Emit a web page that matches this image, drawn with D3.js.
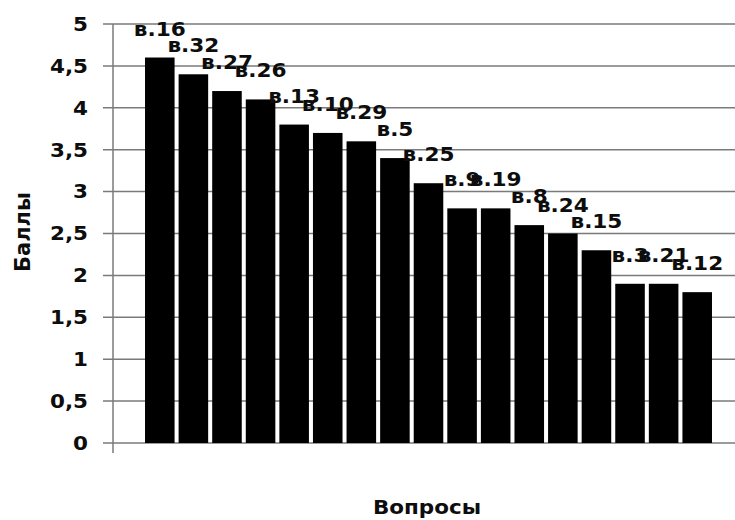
<!DOCTYPE html>
<html><head><meta charset="utf-8">
<script src="https://cdn.jsdelivr.net/npm/d3@7"></script>
<style>body{margin:0;background:#fff}svg{display:block}</style>
</head><body>
<svg id="c" width="735" height="520"></svg>
<script>
const categories = ["в.16","в.32","в.27","в.26","в.13","в.10","в.29","в.5","в.25","в.9","в.19","в.8","в.24","в.15","в.3","в.21","в.12"];
const values = [4.6,4.4,4.2,4.1,3.8,3.7,3.6,3.4,3.1,2.8,2.8,2.6,2.5,2.3,1.9,1.9,1.8];
const yTicks = [0,0.5,1,1.5,2,2.5,3,3.5,4,4.5,5];
const yTitle = "Баллы";
const xTitle = "Вопросы";

(function(){
const svg = d3.select("#c");
const font = "'DejaVu Sans', sans-serif";
const axisX = 113, plotTop = 24, plotBottom = 443, rightEnd = 735;
const y = d3.scaleLinear().domain([0,5]).range([plotBottom, plotTop]);
const x = d3.scaleBand().domain(categories).range([143, 714]).paddingInner(0.12).paddingOuter(0.06);
const fmt = v => String(v).replace(".", ",");
const gray = "#7a7a7a";
const ink = "#0d0d0d";

// gridlines
svg.append("g").selectAll("line").data(yTicks).join("line")
  .attr("x1", axisX - 10).attr("x2", rightEnd)
  .attr("y1", d => y(d)).attr("y2", d => y(d))
  .attr("stroke", gray).attr("stroke-width", 1.5);

// y axis line
svg.append("line").attr("x1", axisX).attr("x2", axisX)
  .attr("y1", y(5)).attr("y2", plotBottom + 10)
  .attr("stroke", gray).attr("stroke-width", 1.5);

// tick labels
svg.append("g").selectAll("text").data(yTicks).join("text")
  .attr("transform", d => `translate(88,${y(d)}) scale(1.13,1)`)
  .attr("dy", "0.36em")
  .attr("text-anchor", "end")
  .attr("font-family", font).attr("font-weight", "bold").attr("font-size", 19)
  .attr("fill", ink).text(fmt);

// bars
svg.append("g").selectAll("rect").data(values).join("rect")
  .attr("x", (d,i) => x(categories[i]))
  .attr("width", x.bandwidth())
  .attr("y", d => y(d))
  .attr("height", d => plotBottom - y(d))
  .attr("fill", "#000");

// data labels
svg.append("g").selectAll("text").data(values).join("text")
  .attr("transform", (d,i) => `translate(${x(categories[i]) + x.bandwidth()/2},${y(d) - 22}) scale(1.08,1)`)
  .attr("text-anchor", "middle")
  .attr("font-family", font).attr("font-weight", "bold").attr("font-size", 20)
  .attr("fill", ink)
  .text((d,i) => categories[i]);

// axis titles
svg.append("text")
  .attr("transform", "translate(30,232) rotate(-90)")
  .attr("text-anchor", "middle")
  .attr("font-family", font).attr("font-weight", "bold").attr("font-size", 21)
  .attr("fill", ink).text(yTitle);
svg.append("text")
  .attr("transform", "translate(427,514) scale(1.13,1)")
  .attr("text-anchor", "middle")
  .attr("font-family", font).attr("font-weight", "bold").attr("font-size", 19)
  .attr("fill", ink).text(xTitle);
})();
</script>
</body></html>
